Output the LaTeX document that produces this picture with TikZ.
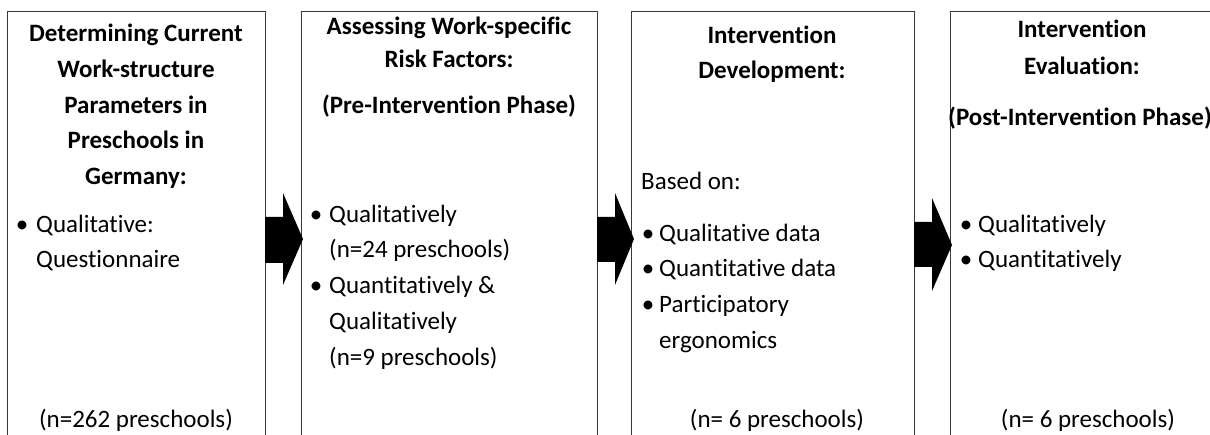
\documentclass[tikz,border=0pt]{standalone}
\usepackage{fontspec}
\setmainfont{Carlito}[Ligatures={NoCommon,NoContextual}]
\begin{document}
\begin{tikzpicture}[x=1pt,y=-1pt,
  box/.style={draw=black!78, line width=1.2pt, anchor=north west, inner sep=0pt},
  ttl/.style={font=\fontsize{25}{30}\selectfont\bfseries, inner sep=0pt, anchor=base},
  body/.style={font=\fontsize{25}{30}\selectfont, inner sep=0pt, anchor=base west},
  ctr/.style={font=\fontsize{25}{30}\selectfont, inner sep=0pt, anchor=base},
  blk/.style={fill=black}]
\useasboundingbox (0,0) rectangle (1210,435);
\clip (0,0) rectangle (1210,435);
% boxes
\node[box, minimum width=258, minimum height=440] (b1) at (7,11) {};
\node[box, minimum width=296, minimum height=440] (b2) at (301,11) {};
\node[box, minimum width=283, minimum height=440] (b3) at (631,11) {};
\node[box, minimum width=270, minimum height=440] (b4) at (950,11) {};
% arrows
\fill[blk] (265,217) -- (283,217) -- (283,193) -- (303,239) -- (283,285) -- (283,263) -- (265,263) -- cycle;
\fill[blk] (597,217) -- (615,217) -- (615,193) -- (634,239) -- (615,285) -- (615,262) -- (597,262) -- cycle;
\fill[blk] (914,222) -- (932,222) -- (932,198) -- (952,245) -- (932,291) -- (932,267) -- (914,267) -- cycle;
% box 1
\node[ttl] (t11) at (136,42) {Determining Current};
\node[ttl] (t12) at (136,78) {Work-structure};
\node[ttl] (t13) at (136,114) {Parameters in};
\node[ttl] (t14) at (136,149) {Preschools in};
\node[ttl] (t15) at (136,185) {Germany:};
\node[ctr] (u11) at (22,233) {•};
\node[body] (l11) at (36,233) {Qualitative:};
\node[body] (l12) at (36,268) {Questionnaire};
\node[ctr] (n1) at (136,428) {(n=262 preschools)};
% box 2
\node[ttl] (t21) at (449,35) {Assessing Work-specific};
\node[ttl] (t22) at (449,68) {Risk Factors:};
\node[ttl] (t23) at (449,114) {(Pre-Intervention Phase)};
\node[ctr] (u21) at (316,223) {•};
\node[body] (l21) at (329,223) {Qualitatively};
\node[body] (l22) at (329,258) {(n=24 preschools)};
\node[ctr] (u22) at (316,294) {•};
\node[body] (l23) at (329,294) {Quantitatively \&};
\node[body] (l24) at (329,330) {Qualitatively};
\node[body] (l25) at (329,366) {(n=9 preschools)};
% box 3
\node[ttl] (t31) at (772,44) {Intervention};
\node[ttl] (t32) at (772,79) {Development:};
\node[body] (l30) at (641,190) {Based on:};
\node[ctr] (u31) at (648,242) {•};
\node[body] (l31) at (659,242) {Qualitative data};
\node[ctr] (u32) at (648,277) {•};
\node[body] (l32) at (659,277) {Quantitative data};
\node[ctr] (u33) at (648,313) {•};
\node[body] (l33) at (659,313) {Participatory};
\node[body] (l34) at (659,349) {ergonomics};
\node[ctr] (n3) at (777,427) {(n= 6 preschools)};
% box 4
\node[ttl] (t41) at (1082,38) {Intervention};
\node[ttl] (t42) at (1082,75) {Evaluation:};
\node[ttl] (t43) at (1080,126) {(Post-Intervention Phase)};
\node[ctr] (u41) at (966,233) {•};
\node[body] (l41) at (978,233) {Qualitatively};
\node[ctr] (u42) at (966,268) {•};
\node[body] (l42) at (978,268) {Quantitatively};
\node[ctr] (n4) at (1088,427) {(n= 6 preschools)};
\end{tikzpicture}
\end{document}
